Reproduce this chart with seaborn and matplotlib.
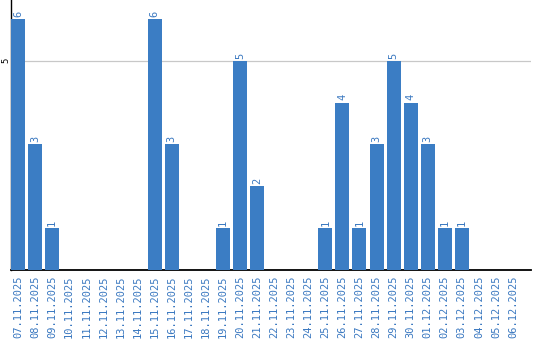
import matplotlib
matplotlib.use("Agg")
import matplotlib.pyplot as plt
import seaborn as sns
import pandas as pd

dates = ["07.11.2025", "08.11.2025", "09.11.2025", "10.11.2025", "11.11.2025",
         "12.11.2025", "13.11.2025", "14.11.2025", "15.11.2025", "16.11.2025",
         "17.11.2025", "18.11.2025", "19.11.2025", "20.11.2025", "21.11.2025",
         "22.11.2025", "23.11.2025", "24.11.2025", "25.11.2025", "26.11.2025",
         "27.11.2025", "28.11.2025", "29.11.2025", "30.11.2025", "01.12.2025",
         "02.12.2025", "03.12.2025", "04.12.2025", "05.12.2025", "06.12.2025"]
counts = [6, 3, 1, 0, 0, 0, 0, 0, 6, 3, 0, 0, 1, 5, 2, 0, 0, 0, 1, 4, 1, 3, 5, 4, 3, 1, 1, 0, 0, 0]
ytick_values = [5]

bar_color = "#3b7dc4"
text_color = "#3a78c0"

df = pd.DataFrame({"date": dates, "count": counts})

sns.set_theme(style="white")
plt.rcParams["font.family"] = ["DejaVu Sans Mono", "DejaVu Sans"]

fig = plt.figure(figsize=(5.4, 3.4), dpi=100)
ax = fig.add_axes([11 / 540, 70 / 340, 520 / 540, 270 / 340])

sns.barplot(data=df, x="date", y="count", order=dates, color=bar_color,
            saturation=1, width=0.82, ax=ax, zorder=3, linewidth=0)

ax.set_xlim(-0.41, 30.05)
ax.set_ylim(0, 6.45)

for c, p in zip(counts, ax.patches):
    if c > 0:
        ax.annotate(str(c), (p.get_x() + p.get_width() / 2, p.get_height()),
                    xytext=(0, 1.5), textcoords="offset points",
                    rotation=90, ha="center", va="bottom",
                    color=text_color, fontsize=7.5)

ax.set_yticks(ytick_values)
ax.set_yticklabels([str(v) for v in ytick_values], rotation=90, va="center",
                   fontsize=6.5, color="black")
ax.yaxis.grid(True, color="#c8c8c8", linewidth=0.9, zorder=0)
ax.xaxis.grid(False)
ax.tick_params(axis="y", length=0, pad=0.5)
ax.tick_params(axis="x", length=0, pad=4)
ax.set_xticks(range(len(dates)))
ax.set_xticklabels(dates, rotation=90, fontsize=7.5, color=text_color, va="top")

ax.set_xlabel("")
ax.set_ylabel("")
for side in ["top", "right"]:
    ax.spines[side].set_visible(False)
ax.spines["left"].set_color("black")
ax.spines["left"].set_linewidth(1.0)
ax.spines["bottom"].set_color("black")
ax.spines["bottom"].set_linewidth(1.3)

fig.savefig("out.png", dpi=100)
